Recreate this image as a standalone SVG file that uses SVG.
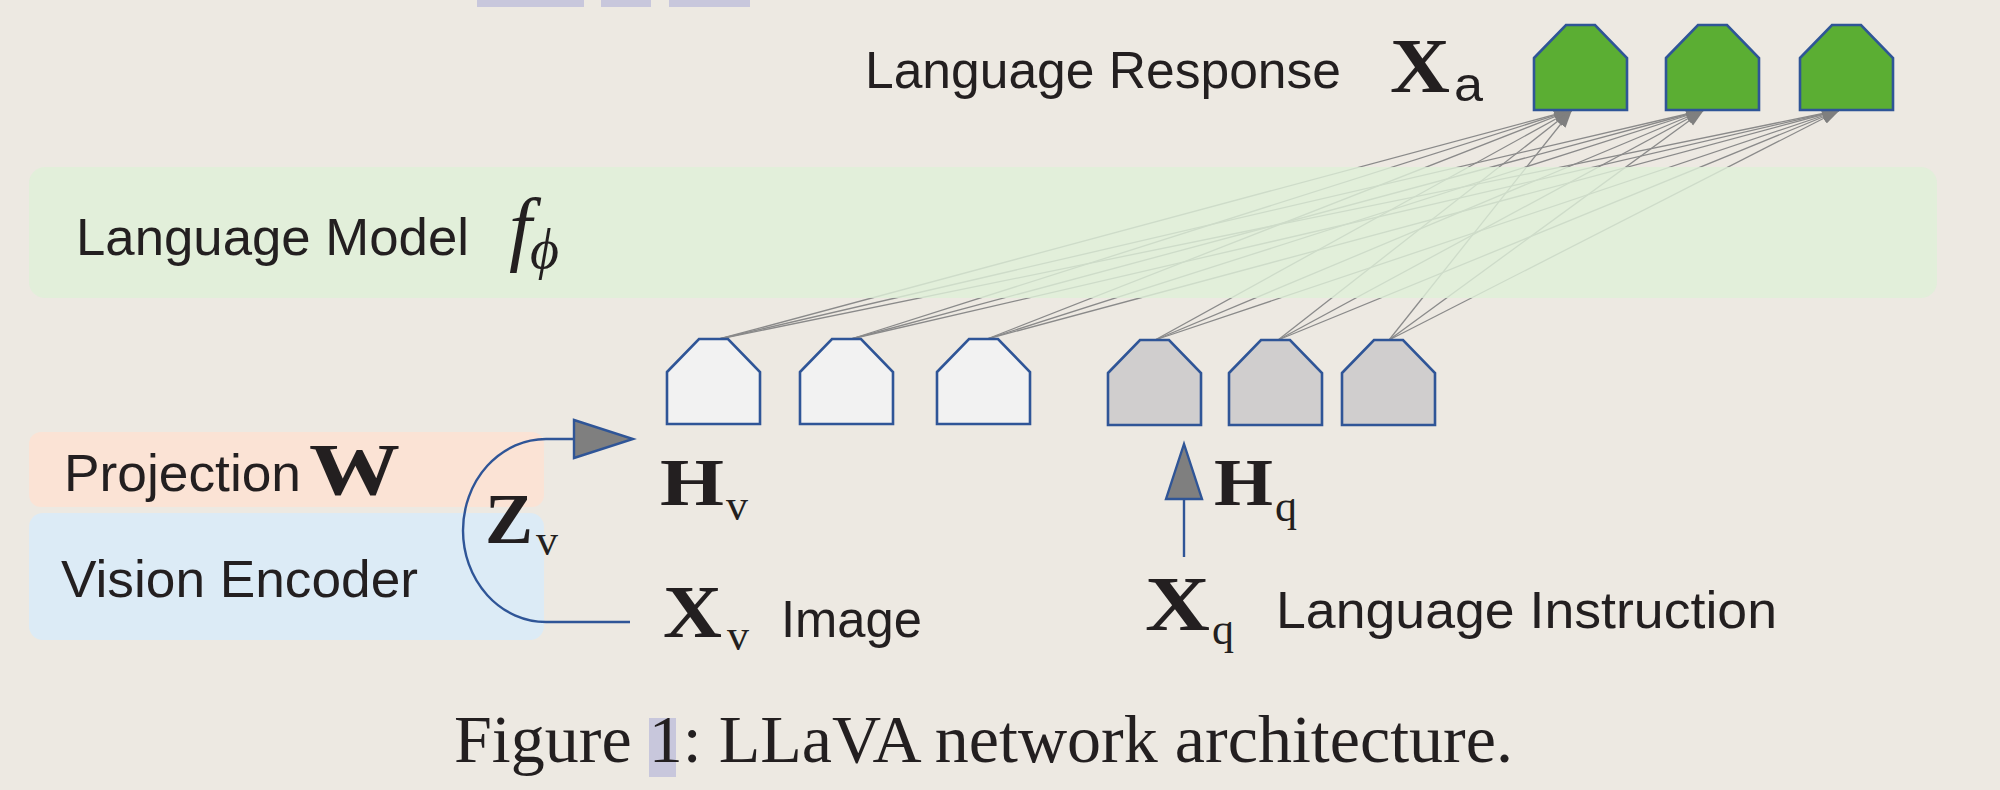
<svg xmlns="http://www.w3.org/2000/svg" width="2000" height="790" viewBox="0 0 2000 790">
<defs>
<style>
.sans{font-family:"Liberation Sans","DejaVu Sans",sans-serif;font-size:52px;fill:#231f20}
.mb{font-family:"Liberation Serif","DejaVu Serif",serif;font-weight:bold;fill:#231f20}
.sub{font-family:"Liberation Serif","DejaVu Serif",serif;font-size:44px;fill:#231f20}
.cap{font-family:"Liberation Serif","DejaVu Serif",serif;font-size:67px;fill:#231f20}
.node{stroke:#2f5597;stroke-width:2.6;stroke-linejoin:miter}
.white{fill:#f2f2f2}
.gray{fill:#d0cece}
.green{fill:#5bae33}
.link{stroke:#8a8a8a;stroke-width:1.3;fill:none;marker-end:url(#ah)}
.flow{stroke:#2f5597;stroke-width:2.4;fill:none}
.head{fill:#7f7f7f;stroke:#2f5597;stroke-width:2.4;stroke-linejoin:miter}
.hl{fill:#c8c7dc}
</style>
<path id="house" d="M0,33 L32,0 L61,0 L93,33 L93,85 L0,85 Z"/>
<marker id="ah" markerUnits="userSpaceOnUse" markerWidth="20" markerHeight="14" refX="18" refY="7" orient="auto" viewBox="0 0 20 14">
<path d="M0,1 L18,7 L0,13 Z" fill="#7f7f7f"/>
</marker>
</defs>
<rect width="2000" height="790" fill="#ede9e2"/>

<g id="top-highlights">
<rect class="hl" x="477" y="0" width="107" height="7"/>
<rect class="hl" x="601" y="0" width="50" height="7"/>
<rect class="hl" x="669" y="0" width="81" height="7"/>
</g>

<g id="projection">
<rect x="29" y="432" width="515" height="75" rx="12" fill="#fbe3d5"/>
<text class="sans" x="64" y="491" textLength="237" lengthAdjust="spacingAndGlyphs">Projection</text>
<text class="mb" x="309" y="495" font-size="74" textLength="91" lengthAdjust="spacingAndGlyphs">W</text>
</g>

<g id="vision-encoder">
<rect x="29" y="513" width="515" height="127" rx="14" fill="#dcebf6"/>
<text class="sans" x="61" y="597" textLength="357" lengthAdjust="spacingAndGlyphs">Vision Encoder</text>
</g>

<g id="connectors">
<line class="link" x1="719" y1="339" x2="1572" y2="110"/>
<line class="link" x1="719" y1="339" x2="1704" y2="110"/>
<line class="link" x1="719" y1="339" x2="1840" y2="110"/>
<line class="link" x1="851" y1="339" x2="1572" y2="110"/>
<line class="link" x1="851" y1="339" x2="1704" y2="110"/>
<line class="link" x1="851" y1="339" x2="1840" y2="110"/>
<line class="link" x1="987" y1="339" x2="1572" y2="110"/>
<line class="link" x1="987" y1="339" x2="1704" y2="110"/>
<line class="link" x1="987" y1="339" x2="1840" y2="110"/>
<line class="link" x1="1155" y1="340" x2="1572" y2="110"/>
<line class="link" x1="1155" y1="340" x2="1704" y2="110"/>
<line class="link" x1="1155" y1="340" x2="1840" y2="110"/>
<line class="link" x1="1278" y1="340" x2="1572" y2="110"/>
<line class="link" x1="1278" y1="340" x2="1704" y2="110"/>
<line class="link" x1="1278" y1="340" x2="1840" y2="110"/>
<line class="link" x1="1389" y1="340" x2="1572" y2="110"/>
<line class="link" x1="1389" y1="340" x2="1704" y2="110"/>
<line class="link" x1="1389" y1="340" x2="1840" y2="110"/>
<path class="flow" d="M630,622 H546 A83,91.5 0 0 1 546,439 H576"/>
<polygon class="head" points="574,420 633,439 574,458"/>
<line class="flow" x1="1184" y1="557" x2="1184" y2="499"/>
<polygon class="head" points="1166,499 1184,444 1202,499"/>
</g>

<g id="language-model">
<rect x="29" y="167" width="1908" height="131" rx="16" fill="#def0d8" opacity="0.8"/>
<text class="sans" x="76" y="255" textLength="393" lengthAdjust="spacingAndGlyphs">Language Model</text>
<text x="509" y="255" font-family="Liberation Serif,DejaVu Serif,serif" font-style="italic" font-size="82" fill="#231f20">f</text>
<text x="530" y="268" font-family="Liberation Serif,DejaVu Serif,serif" font-style="italic" font-size="56" fill="#231f20">ϕ</text>
</g>

<g id="zv-label">
<text class="mb" x="485" y="543" font-size="72" textLength="48" lengthAdjust="spacingAndGlyphs">Z</text>
<text class="sub" x="536" y="555">v</text>
</g>

<g id="xv-image">
<text class="mb" x="663" y="637" font-size="74" textLength="59" lengthAdjust="spacingAndGlyphs">X</text>
<text class="sub" x="727" y="650">v</text>
<text class="sans" x="781" y="637" textLength="141" lengthAdjust="spacingAndGlyphs">Image</text>
</g>

<g id="hv-label">
<text class="mb" x="660" y="505" font-size="68" textLength="64" lengthAdjust="spacingAndGlyphs">H</text>
<text class="sub" x="726" y="520">v</text>
</g>

<g id="hq-label">
<text class="mb" x="1214" y="505" font-size="68" textLength="59" lengthAdjust="spacingAndGlyphs">H</text>
<text class="sub" x="1275" y="521" font-size="46">q</text>
</g>

<g id="xq-instruction">
<text class="mb" x="1145" y="630" font-size="78" textLength="65" lengthAdjust="spacingAndGlyphs">X</text>
<text class="sub" x="1212" y="644" font-size="46">q</text>
<text class="sans" x="1276" y="628" textLength="501" lengthAdjust="spacingAndGlyphs">Language Instruction</text>
</g>

<g id="response-label">
<text class="sans" x="865" y="88" textLength="476" lengthAdjust="spacingAndGlyphs">Language Response</text>
<text class="mb" x="1390" y="92" font-size="78" textLength="60" lengthAdjust="spacingAndGlyphs">X</text>
<text x="1454" y="101" font-family="Liberation Sans,DejaVu Sans,sans-serif" font-size="48" fill="#231f20" textLength="29" lengthAdjust="spacingAndGlyphs">a</text>
</g>

<g id="hv-token-1"><use href="#house" class="node white" x="667" y="339"/></g>
<g id="hv-token-2"><use href="#house" class="node white" x="800" y="339"/></g>
<g id="hv-token-3"><use href="#house" class="node white" x="937" y="339"/></g>
<g id="hq-token-1"><use href="#house" class="node gray" x="1108" y="340"/></g>
<g id="hq-token-2"><use href="#house" class="node gray" x="1229" y="340"/></g>
<g id="hq-token-3"><use href="#house" class="node gray" x="1342" y="340"/></g>
<g id="xa-token-1"><use href="#house" class="node green" x="1534" y="25"/></g>
<g id="xa-token-2"><use href="#house" class="node green" x="1666" y="25"/></g>
<g id="xa-token-3"><use href="#house" class="node green" x="1800" y="25"/></g>

<g id="caption">
<rect class="hl" x="649" y="718" width="27" height="59"/>
<text class="cap" x="454" y="762" textLength="1059" lengthAdjust="spacingAndGlyphs">Figure 1: LLaVA network architecture.</text>
</g>
</svg>
